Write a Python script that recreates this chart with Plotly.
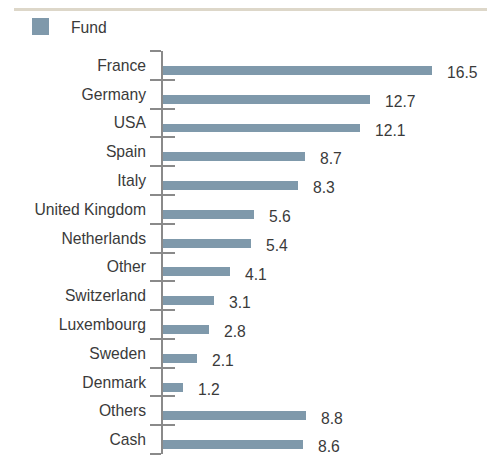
import plotly.graph_objects as go

categories = ["France", "Germany", "USA", "Spain", "Italy", "United Kingdom", "Netherlands",
              "Other", "Switzerland", "Luxembourg", "Sweden", "Denmark", "Others", "Cash"]
fund = [16.5, 12.7, 12.1, 8.7, 8.3, 5.6, 5.4, 4.1, 3.1, 2.8, 2.1, 1.2, 8.8, 8.6]
series_name = "Fund"

# page body has an 8px margin: build the figure 8px smaller and shifted
OFF = 8
W, H = 497 - OFF, 457 - OFF
ML, MR, MT, MB = 163 - OFF, 8, 51 - OFF, 3
PW, PH = W - ML - MR, H - MT - MB
XMAX = PW / 16.3

BAR = "#7f99ab"
AX = "#8a8a8a"
TXT = "#3a3a3a"
FONT = "Liberation Sans, Arial, sans-serif"
FS = 15.7

n = len(categories)
pos = list(range(n))
bounds = [i - 0.5 for i in range(n + 1)]
yr = [n - 0.5, -0.5]

fig = go.Figure()
fig.add_trace(go.Bar(
    x=fund, y=pos, orientation="h", marker=dict(color=BAR, line=dict(width=0)),
    width=0.31, offset=0.02, name=series_name, showlegend=False, hoverinfo="x+y",
))

for v, p in zip(fund, pos):
    fig.add_annotation(x=v, y=p + 0.25, text=f"{v:.1f}", showarrow=False,
                       xanchor="left", yanchor="middle", xshift=13,
                       font=dict(size=FS, color=TXT, family=FONT))

# manual legend (positions given in page pixels)
def px_x(px):
    return (px - OFF - ML) / PW

def px_y(py):
    return (H - MB - (py - OFF)) / PH

fig.add_shape(type="rect", xref="paper", yref="paper",
              x0=px_x(32), x1=px_x(49), y0=px_y(35), y1=px_y(18),
              fillcolor=BAR, line=dict(width=0))
fig.add_annotation(xref="paper", yref="paper", x=px_x(69), y=px_y(27), text=series_name,
                   showarrow=False, xanchor="left", yanchor="middle",
                   font=dict(size=FS, color=TXT, family=FONT))
# top band (as close to the top edge as the page allows)
fig.add_shape(type="rect", xref="paper", yref="paper",
              x0=px_x(14), x1=px_x(487), y0=px_y(11), y1=px_y(8),
              fillcolor="#ddd7c9", line=dict(width=0))

fig.update_layout(
    width=W, height=H, margin=dict(l=ML, r=MR, t=MT, b=MB),
    paper_bgcolor="white", plot_bgcolor="white",
    font=dict(family=FONT, size=FS, color=TXT),
    bargap=0,
    xaxis=dict(range=[0, XMAX], showgrid=False, zeroline=False, showticklabels=False,
               showline=False, ticks=""),
    yaxis=dict(range=yr, tickmode="array", tickvals=pos, ticktext=categories,
               ticks="", showgrid=False, zeroline=False, showline=False,
               ticklabelstandoff=16, tickfont=dict(size=FS, color=TXT, family=FONT)),
    yaxis2=dict(range=yr, overlaying="y", side="left", tickmode="array", tickvals=bounds,
                ticks="outside", ticklen=11, tickwidth=2, tickcolor=AX,
                showticklabels=False, showgrid=False, zeroline=False,
                showline=True, linewidth=2, linecolor=AX),
    yaxis3=dict(range=yr, overlaying="y", side="left", tickmode="array", tickvals=bounds,
                ticks="inside", ticklen=12, tickwidth=2, tickcolor=AX,
                showticklabels=False, showgrid=False, zeroline=False, showline=False),
)

fig.add_trace(go.Scatter(x=[None], y=[None], yaxis="y2", showlegend=False, hoverinfo="skip"))
fig.add_trace(go.Scatter(x=[None], y=[None], yaxis="y3", showlegend=False, hoverinfo="skip"))

fig.write_html("out.html")
